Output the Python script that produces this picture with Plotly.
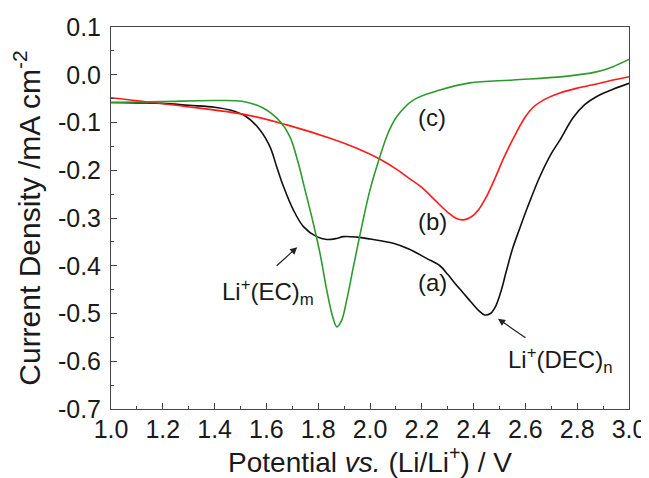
import plotly.graph_objects as go

# Curve (a) black
x_a = [1.0, 1.1, 1.2, 1.3, 1.4, 1.46, 1.52, 1.576, 1.614, 1.64, 1.666, 1.704, 1.743, 1.794, 1.833, 1.87,
       1.897, 1.949, 2.0, 2.09, 2.15, 2.22, 2.27, 2.30, 2.33, 2.36, 2.39, 2.42, 2.443, 2.465, 2.485,
       2.505, 2.527, 2.55, 2.578, 2.61, 2.656, 2.70, 2.733, 2.784, 2.83, 2.874, 2.94, 3.0]
y_a = [-0.058, -0.059, -0.060, -0.064, -0.068, -0.074, -0.087, -0.116, -0.151, -0.193, -0.234, -0.283,
       -0.318, -0.339, -0.345, -0.343, -0.339, -0.340, -0.344, -0.353, -0.365, -0.385, -0.400, -0.418,
       -0.438, -0.457, -0.476, -0.494, -0.503, -0.500, -0.485, -0.455, -0.41, -0.365, -0.322, -0.275,
       -0.213, -0.165, -0.137, -0.090, -0.062, -0.046, -0.030, -0.018]

# Curve (b) red
x_b = [1.0, 1.267, 1.524, 1.679, 1.846, 1.949, 2.039, 2.10, 2.154, 2.20, 2.25, 2.30, 2.33, 2.36,
       2.39, 2.42, 2.45, 2.48, 2.52, 2.566, 2.60, 2.63, 2.68, 2.733, 2.80, 2.861, 2.93, 3.0]
y_b = [-0.048, -0.065, -0.084, -0.105, -0.133, -0.154, -0.177, -0.197, -0.218, -0.236, -0.262, -0.288,
       -0.300, -0.304, -0.298, -0.282, -0.255, -0.22, -0.17, -0.12, -0.088, -0.068, -0.05, -0.038,
       -0.028, -0.021, -0.012, -0.004]

# Curve (c) green
x_c = [1.0, 1.2, 1.4, 1.51, 1.589, 1.653, 1.691, 1.723, 1.749, 1.781, 1.807, 1.833, 1.855, 1.872,
       1.89, 1.91, 1.936, 1.968, 2.0, 2.039, 2.07, 2.103, 2.167, 2.27, 2.386, 2.553, 2.745, 2.874,
       2.938, 3.0]
y_c = [-0.058, -0.056, -0.054, -0.056, -0.070, -0.098, -0.130, -0.185, -0.241, -0.311, -0.374, -0.451,
       -0.505, -0.528, -0.515, -0.472, -0.402, -0.318, -0.241, -0.170, -0.122, -0.088, -0.053, -0.032,
       -0.017, -0.011, -0.004, 0.006, 0.017, 0.032]

x_ticks = [1.0, 1.2, 1.4, 1.6, 1.8, 2.0, 2.2, 2.4, 2.6, 2.8, 3.0]
y_ticks = [0.1, 0.0, -0.1, -0.2, -0.3, -0.4, -0.5, -0.6, -0.7]

FONT = "Arial, Liberation Sans, sans-serif"
TXT = "#1a1a1a"
fig = go.Figure()
for xs, ys, col in [(x_a, y_a, "#111111"), (x_b, y_b, "#ff1a1a"), (x_c, y_c, "#2e9a2e")]:
    fig.add_trace(go.Scatter(x=xs, y=ys, mode="lines",
                             line=dict(color=col, width=1.6, shape="spline", smoothing=1.0)))

axis_common = dict(showgrid=False, zeroline=False, showline=True, linecolor="#444444", linewidth=1,
                   mirror=True, ticks="inside", ticklen=6, tickcolor="#444444", automargin=False,
                   tickfont=dict(family=FONT, size=25, color=TXT))
fig.update_xaxes(range=[1.0, 3.0], tickvals=x_ticks, ticktext=[f"{v:.1f}" for v in x_ticks],
                 minor=dict(dtick=0.1, ticks="inside", ticklen=3, tickcolor="#444444"),
                 ticklabelstandoff=-2,
                 title=dict(text="Potential <i>vs.</i> (Li/Li<sup>+</sup>) / V",
                            font=dict(family=FONT, size=28, color=TXT), standoff=2),
                 **axis_common)
fig.update_yaxes(range=[-0.7, 0.1], tickvals=y_ticks, ticktext=[f"{v:.1f}" for v in y_ticks],
                 minor=dict(dtick=0.05, tick0=0, ticks="inside", ticklen=3, tickcolor="#444444"),
                 ticklabelstandoff=4,
                 title=dict(text="Current Density /mA cm<sup>-2</sup>",
                            font=dict(family=FONT, size=30, color=TXT), standoff=14),
                 **axis_common)

ann_font = dict(family=FONT, size=24, color=TXT)
for txt, xx, yy in [("(c)", 2.24, -0.09), ("(b)", 2.24, -0.308), ("(a)", 2.24, -0.436),
                    ("Li<sup>+</sup>(EC)<sub>m</sub>", 1.607, -0.455),
                    ("Li<sup>+</sup>(DEC)<sub>n</sub>", 2.736, -0.597)]:
    fig.add_annotation(x=xx, y=yy, text=txt, showarrow=False, font=ann_font, xref="x", yref="y")

for hx, hy, tx, ty in [(1.719, -0.361, 1.634, -0.403), (2.494, -0.511, 2.606, -0.553)]:
    fig.add_annotation(x=hx, y=hy, ax=tx, ay=ty, xref="x", yref="y", axref="x", ayref="y",
                       text="", showarrow=True, arrowhead=2, arrowsize=1.2, arrowwidth=1.2,
                       arrowcolor="#222222")

# page has an 8px body margin, so the figure is 8px smaller and margins shifted accordingly
fig.update_layout(width=641, height=470, margin=dict(l=103, r=20, t=19, b=69, autoexpand=False),
                  paper_bgcolor="white", plot_bgcolor="white", showlegend=False)
fig.write_html("out.html")
